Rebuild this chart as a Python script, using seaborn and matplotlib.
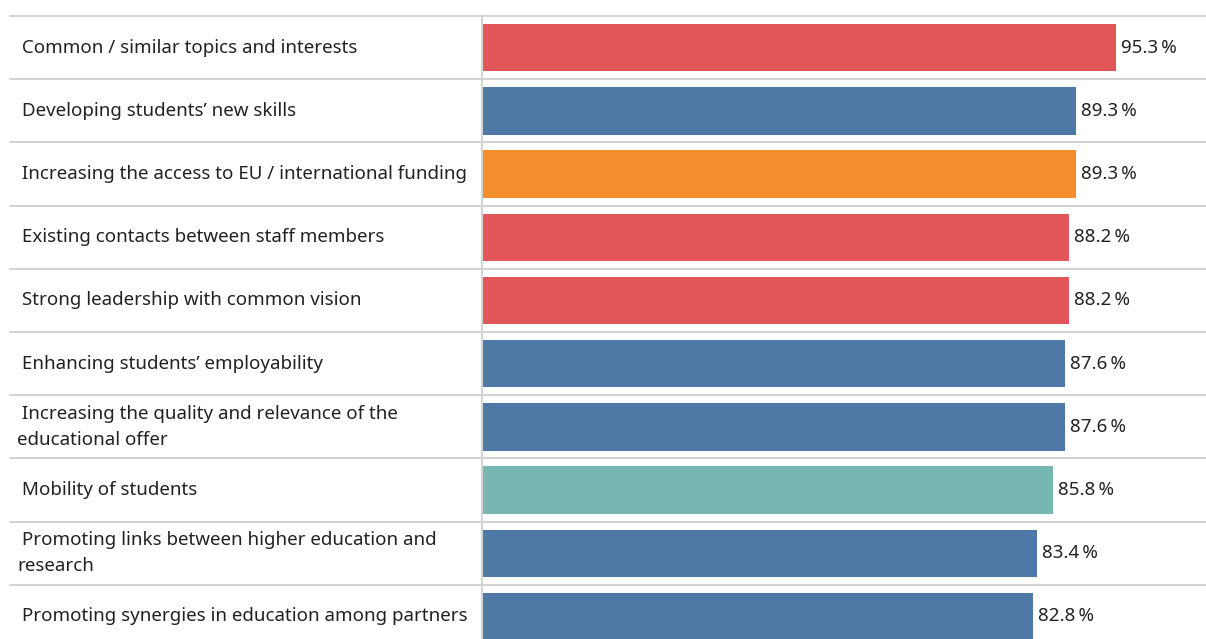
import matplotlib
matplotlib.use("Agg")
import matplotlib.pyplot as plt
import matplotlib.transforms as mtransforms
import seaborn as sns
import pandas as pd

categories = [
    " Common / similar topics and interests",
    " Developing students’ new skills",
    " Increasing the access to EU / international funding",
    " Existing contacts between staff members",
    " Strong leadership with common vision",
    " Enhancing students’ employability",
    " Increasing the quality and relevance of the\neducational offer",
    " Mobility of students",
    " Promoting links between higher education and\nresearch",
    " Promoting synergies in education among partners",
]
values = [95.3, 89.3, 89.3, 88.2, 88.2, 87.6, 87.6, 85.8, 83.4, 82.8]
groups = ["A", "B", "C", "A", "A", "B", "B", "D", "B", "B"]
palette = {"A": "#E15759", "B": "#4E79A7", "C": "#F28E2B", "D": "#76B7B2"}

df = pd.DataFrame({"cat": categories, "val": values, "grp": groups})

sns.set_style("white")
plt.rcParams["font.family"] = ["Noto Sans", "DejaVu Sans"]

W, H = 1206, 639
fig = plt.figure(figsize=(W / 100, H / 100), dpi=100)
x0 = 482
ax = fig.add_axes([x0 / W, 0, (W - x0) / W, (H - 16) / H])

sns.barplot(data=df, y="cat", x="val", hue="grp", palette=palette,
            dodge=False, legend=False, width=0.75, orient="h", ax=ax,
            saturation=1, linewidth=0)

row_px = 63.2
ax.set_ylim(-0.5 + (H - 16) / row_px, -0.5)
ax.set_xlim(0, (W - x0) / 6.65)

ax.set_xlabel("")
ax.set_ylabel("")
ax.set_xticks([])
ax.set_yticks([])
for s in ["top", "right", "bottom"]:
    ax.spines[s].set_visible(False)
ax.spines["left"].set_color("#d4d4d4")
ax.spines["left"].set_linewidth(1.5)

grid_xmin = (10 - x0) / (W - x0)
for i in range(len(categories) + 1):
    ax.axhline(i - 0.5, xmin=grid_xmin, xmax=1, color="#d4d4d4",
               linewidth=1.5, clip_on=False, zorder=0)

trans = mtransforms.blended_transform_factory(fig.transFigure, ax.transData)
for i, (c, v) in enumerate(zip(categories, values)):
    ax.text(17 / W, i, c, transform=trans, ha="left", va="center",
            fontsize=13.5, color="#222222", linespacing=1.57)
    ax.text(v + 0.8, i, f"{v:.1f}\u2009%", ha="left", va="center",
            fontsize=13.5, color="#222222")

fig.savefig("out.png", dpi=100)
